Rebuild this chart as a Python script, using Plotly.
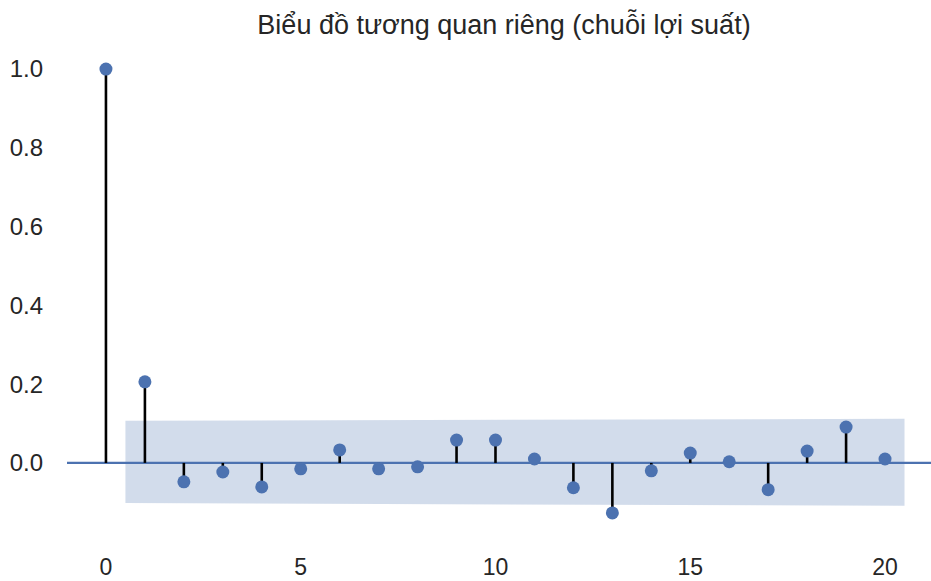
import plotly.graph_objects as go

# Partial autocorrelation of the return series, lags 0..20
lags = list(range(21))
pacf_values = [1.0, 0.206, -0.048, -0.023, -0.061, -0.015, 0.033, -0.015, -0.010,
               0.058, 0.058, 0.010, -0.063, -0.127, -0.020, 0.025, 0.003, -0.068,
               0.030, 0.091, 0.010]
conf_upper = [0.107, 0.112]   # band edge at first / last lag
conf_lower = [-0.102, -0.109]

x_ticks = [0, 5, 10, 15, 20]
y_ticks = [0.0, 0.2, 0.4, 0.6, 0.8, 1.0]
title_text = "Biểu đồ tương quan riêng (chuỗi lợi suất)"

blue = "#4C72B0"
band_fill = "rgba(76,114,176,0.25)"
text_color = "#262626"

fig = go.Figure()

# confidence band (shaded), spanning lag 1 to the last lag, half a lag wider each side
bx0 = lags[1] - 0.5
bx1 = lags[-1] + 0.5
fig.add_trace(go.Scatter(
    x=[bx0, bx1, bx1, bx0], y=[conf_upper[0], conf_upper[1], conf_lower[1], conf_lower[0]],
    fill="toself", fillcolor=band_fill, line=dict(width=0), mode="lines",
    hoverinfo="skip", showlegend=False))

# zero reference line
fig.add_trace(go.Scatter(
    x=[-1, 22], y=[0, 0], mode="lines", line=dict(color=blue, width=2.3),
    hoverinfo="skip", showlegend=False))

# stems
sx, sy = [], []
for lag, v in zip(lags, pacf_values):
    sx += [lag, lag, None]
    sy += [0, v, None]
fig.add_trace(go.Scatter(
    x=sx, y=sy, mode="lines", line=dict(color="black", width=2.6),
    hoverinfo="skip", showlegend=False))

# markers
fig.add_trace(go.Scatter(
    x=lags, y=pacf_values, mode="markers",
    marker=dict(color=blue, size=13, line=dict(width=0)),
    showlegend=False))

font_family = "Liberation Sans, Arial, sans-serif"
fig.update_layout(
    width=931, height=581,
    margin=dict(l=67, r=0, t=45, b=33),
    paper_bgcolor="white", plot_bgcolor="white",
    font=dict(family=font_family, size=23, color=text_color),
    title=dict(text=title_text, x=504 / 931, xanchor="center", y=1 - 25 / 581,
               yanchor="middle", xref="container", yref="container",
               font=dict(family=font_family, size=27, color=text_color)),
    xaxis=dict(range=[-1, 21.18], tickvals=x_ticks, ticktext=[str(t) for t in x_ticks],
               showgrid=False, zeroline=False, showline=False, ticks="",
               ticklabelstandoff=3, tickfont=dict(size=23, color=text_color)),
    yaxis=dict(range=[-0.216, 1.061], tickvals=y_ticks,
               ticktext=[f"{t:.1f}" for t in y_ticks],
               showgrid=False, zeroline=False, showline=False, ticks="",
               ticklabelstandoff=23, tickfont=dict(size=24, color=text_color)),
)

fig.write_html("out.html")
